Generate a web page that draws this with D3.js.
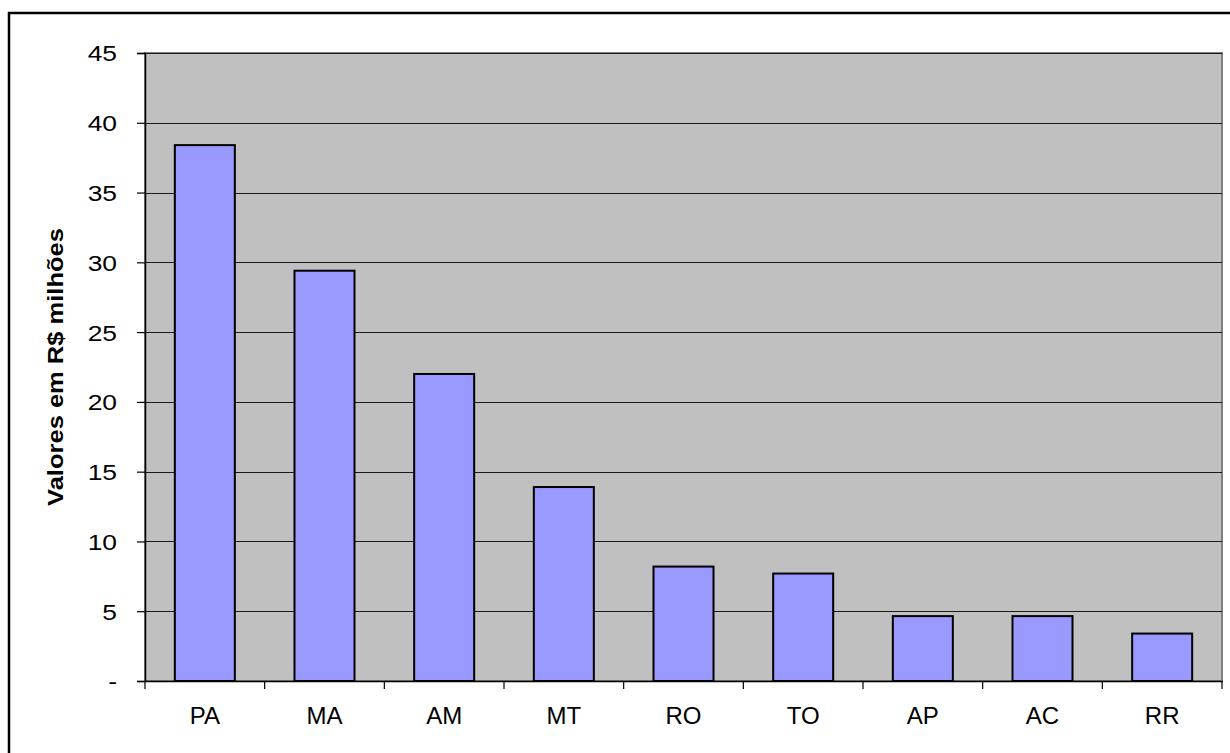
<!DOCTYPE html>
<html>
<head>
<meta charset="utf-8">
<script src="https://cdn.jsdelivr.net/npm/d3@7"></script>
<style>
  body { margin: 0; background: #fff; }
  text { font-family: "Liberation Sans", Arial, sans-serif; fill: #000; }
</style>
</head>
<body>
<div id="chart"></div>
<script>
var estados = ["PA", "MA", "AM", "MT", "RO", "TO", "AP", "AC", "RR"];
var valores = [38.4, 29.4, 22.0, 13.9, 8.2, 7.7, 4.65, 4.65, 3.4];
var yTicks = [0, 5, 10, 15, 20, 25, 30, 35, 40, 45];
var yTitle = "Valores em R$ milhões";

var W = 1230, H = 753;
var pLeft = 145, pRight = 1222, pTop = 53, pBottom = 681;

var svg = d3.select("#chart").append("svg")
  .attr("width", W)
  .attr("height", H);

// outer frame (right and bottom edges run off the picture)
svg.append("rect")
  .attr("x", 9).attr("y", 13)
  .attr("width", 1240).attr("height", 760)
  .attr("fill", "none")
  .attr("stroke", "#000")
  .attr("stroke-width", 2.5);

var x = d3.scaleBand().domain(estados).range([pLeft, pRight]).paddingInner(0).paddingOuter(0);
var y = d3.scaleLinear().domain([0, 45]).range([pBottom, pTop]);

// plot area
svg.append("rect")
  .attr("x", pLeft).attr("y", pTop)
  .attr("width", pRight - pLeft).attr("height", pBottom - pTop)
  .attr("fill", "#c0c0c0")
  .attr("stroke", "#808080")
  .attr("stroke-width", 2);

// grid lines
svg.append("g").selectAll("line").data(yTicks.slice(1)).enter().append("line")
  .attr("x1", pLeft).attr("x2", pRight)
  .attr("y1", function(d) { return Math.round(y(d)) + 0.5; })
  .attr("y2", function(d) { return Math.round(y(d)) + 0.5; })
  .attr("stroke", "#1a1a1a")
  .attr("stroke-width", 1.2);

// bars
var bw = 60;
svg.append("g").selectAll("rect").data(valores).enter().append("rect")
  .attr("x", function(d, i) { return x(estados[i]) + x.bandwidth() / 2 - bw / 2; })
  .attr("y", function(d) { return y(d); })
  .attr("width", bw)
  .attr("height", function(d) { return pBottom - y(d); })
  .attr("fill", "#9999ff")
  .attr("stroke", "#000")
  .attr("stroke-width", 2);

// y axis
var yAxis = d3.axisLeft(y)
  .tickValues(yTicks)
  .tickSize(8)
  .tickFormat(function(d) { return d === 0 ? "-" : d; });

var gy = svg.append("g")
  .attr("transform", "translate(" + pLeft + ",0)")
  .call(yAxis);
gy.select(".domain").attr("stroke", "#000").attr("stroke-width", 1.5);
gy.selectAll(".tick line").attr("stroke", "#000").attr("stroke-width", 1.2);
// the reference's y labels are a bit wider than Arial, so stretch them
gy.selectAll("text")
  .style("font-size", "22px")
  .attr("x", 0)
  .attr("dy", "0.36em")
  .attr("transform", "translate(-28,0) scale(1.2,1)");

// x axis
var xAxis = d3.axisBottom(x).tickSize(0).tickPadding(26);
var gx = svg.append("g")
  .attr("transform", "translate(0," + pBottom + ")")
  .call(xAxis);
gx.select(".domain").attr("stroke", "#000").attr("stroke-width", 1.5);
gx.selectAll("text").style("font-size", "24px");

// category boundary ticks
gx.append("g").selectAll("line").data(estados.concat(["end"])).enter().append("line")
  .attr("x1", function(d, i) { return pLeft + i * x.bandwidth(); })
  .attr("x2", function(d, i) { return pLeft + i * x.bandwidth(); })
  .attr("y1", 0).attr("y2", 8)
  .attr("stroke", "#000")
  .attr("stroke-width", 1.2);

// y title
svg.append("text")
  .attr("transform", "translate(63," + (pTop + pBottom) / 2 + ") rotate(-90) scale(1.16,1)")
  .attr("text-anchor", "middle")
  .style("font-size", "22px")
  .style("font-weight", "bold")
  .text(yTitle);
</script>
</body>
</html>
